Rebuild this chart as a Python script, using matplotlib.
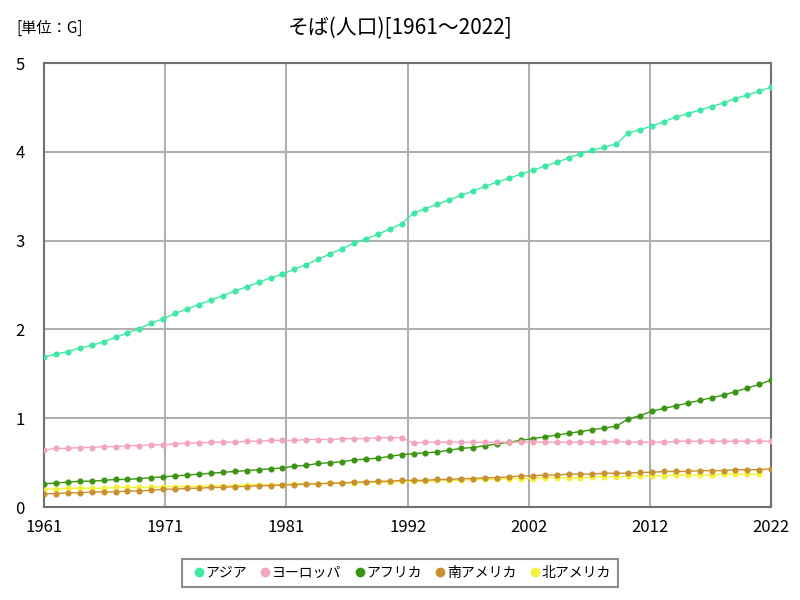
import matplotlib.pyplot as plt
import numpy as np

plt.rcParams["font.family"] = ["Noto Sans CJK JP", "DejaVu Sans"]

years = np.arange(1961, 2023)

asia = [1.69, 1.72, 1.75, 1.79, 1.82, 1.86, 1.91, 1.96, 2.01, 2.07,
        2.12, 2.18, 2.23, 2.28, 2.33, 2.38, 2.43, 2.48, 2.53, 2.58,
        2.62, 2.68, 2.73, 2.79, 2.85, 2.91, 2.97, 3.02, 3.07, 3.13,
        3.19, 3.31, 3.36, 3.41, 3.46, 3.51, 3.56, 3.61, 3.66, 3.70,
        3.75, 3.79, 3.84, 3.88, 3.93, 3.98, 4.02, 4.05, 4.09, 4.21,
        4.25, 4.29, 4.34, 4.39, 4.43, 4.47, 4.51, 4.55, 4.60, 4.64,
        4.68, 4.73]
europe = [0.64, 0.66, 0.66, 0.67, 0.67, 0.68, 0.68, 0.69, 0.69, 0.70,
          0.70, 0.71, 0.72, 0.72, 0.73, 0.73, 0.73, 0.74, 0.74, 0.75,
          0.75, 0.75, 0.76, 0.76, 0.76, 0.77, 0.77, 0.77, 0.78, 0.78,
          0.78, 0.72, 0.73, 0.73, 0.73, 0.73, 0.73, 0.73, 0.73, 0.73,
          0.73, 0.73, 0.73, 0.73, 0.73, 0.73, 0.73, 0.73, 0.74, 0.73,
          0.73, 0.73, 0.73, 0.74, 0.74, 0.74, 0.74, 0.74, 0.74, 0.74,
          0.74, 0.74]
africa = [0.26, 0.27, 0.28, 0.29, 0.29, 0.30, 0.31, 0.31, 0.32, 0.33,
          0.34, 0.35, 0.36, 0.37, 0.38, 0.39, 0.40, 0.41, 0.42, 0.43,
          0.44, 0.46, 0.47, 0.49, 0.50, 0.51, 0.53, 0.54, 0.55, 0.57,
          0.59, 0.60, 0.61, 0.62, 0.64, 0.66, 0.67, 0.69, 0.71, 0.73,
          0.75, 0.77, 0.79, 0.81, 0.83, 0.85, 0.87, 0.89, 0.91, 0.99,
          1.03, 1.08, 1.11, 1.14, 1.17, 1.20, 1.23, 1.26, 1.30, 1.34,
          1.38, 1.43]
south_america = [0.15, 0.15, 0.16, 0.16, 0.17, 0.17, 0.17, 0.18, 0.18, 0.19,
                 0.20, 0.20, 0.21, 0.21, 0.22, 0.22, 0.23, 0.23, 0.24, 0.24,
                 0.25, 0.25, 0.26, 0.26, 0.27, 0.27, 0.28, 0.28, 0.29, 0.29,
                 0.30, 0.30, 0.30, 0.31, 0.31, 0.32, 0.32, 0.33, 0.33, 0.34,
                 0.35, 0.35, 0.36, 0.36, 0.37, 0.37, 0.37, 0.38, 0.38, 0.38,
                 0.39, 0.39, 0.40, 0.40, 0.40, 0.41, 0.41, 0.41, 0.42, 0.42,
                 0.42, 0.43]
north_america = [0.20, 0.20, 0.21, 0.21, 0.21, 0.21, 0.22, 0.22, 0.22, 0.22,
                 0.23, 0.23, 0.23, 0.23, 0.24, 0.24, 0.24, 0.25, 0.25, 0.25,
                 0.25, 0.26, 0.26, 0.26, 0.27, 0.27, 0.27, 0.28, 0.28, 0.28,
                 0.29, 0.29, 0.29, 0.30, 0.30, 0.30, 0.31, 0.31, 0.31, 0.32,
                 0.32, 0.32, 0.33, 0.33, 0.33, 0.33, 0.34, 0.34, 0.34, 0.35,
                 0.35, 0.35, 0.35, 0.36, 0.36, 0.36, 0.36, 0.37, 0.37, 0.37,
                 0.37, np.nan]

series = [
    ("アジア", asia, "#3ee8a4"),
    ("ヨーロッパ", europe, "#f2a6bc"),
    ("アフリカ", africa, "#3b9512"),
    ("南アメリカ", south_america, "#c8902e"),
    ("北アメリカ", north_america, "#f2f23a"),
]

fig = plt.figure(figsize=(8, 6), dpi=100)
ax = fig.add_axes([0.055, 0.155, 0.909, 0.74])

# draw bottom series first so Asia sits on top like the original
for name, vals, color in reversed(series):
    ax.plot(years, vals, color=color, lw=1.0, marker="o", ms=3.4,
            label=name, zorder=3)

ax.set_xlim(1961, 2022)
ax.set_ylim(0, 5)
xt = np.linspace(1961, 2022, 7)
ax.set_xticks(xt, [str(int(round(v + 0.01))) for v in xt])
ax.set_yticks(range(0, 6))
ax.tick_params(length=0, labelsize=12)
ax.tick_params(axis="x", pad=9)
ax.tick_params(axis="y", pad=14)
ax.grid(color="#b0b0b0", lw=1.5)
ax.set_axisbelow(True)
for sp in ax.spines.values():
    sp.set_color("#707070")
    sp.set_linewidth(1.5)

fig.text(0.5, 0.953, "そば(人口)[1961～2022]", ha="center", va="center", fontsize=15)
fig.text(0.02, 0.953, "[単位：G]", ha="left", va="center", fontsize=11)

handles = [plt.Line2D([], [], ls="", marker="o", ms=6, color=c) for _, _, c in series]
labels = [n for n, _, _ in series]
leg = fig.legend(handles, labels, loc="center", bbox_to_anchor=(0.5, 0.045), ncol=5,
                 frameon=True, fancybox=False, fontsize=10, handletextpad=-0.2,
                 handlelength=1.4, columnspacing=0.6, borderpad=0.5)
leg.get_frame().set_edgecolor("#707070")
leg.get_frame().set_linewidth(1.5)

fig.savefig("out.png", dpi=100)
